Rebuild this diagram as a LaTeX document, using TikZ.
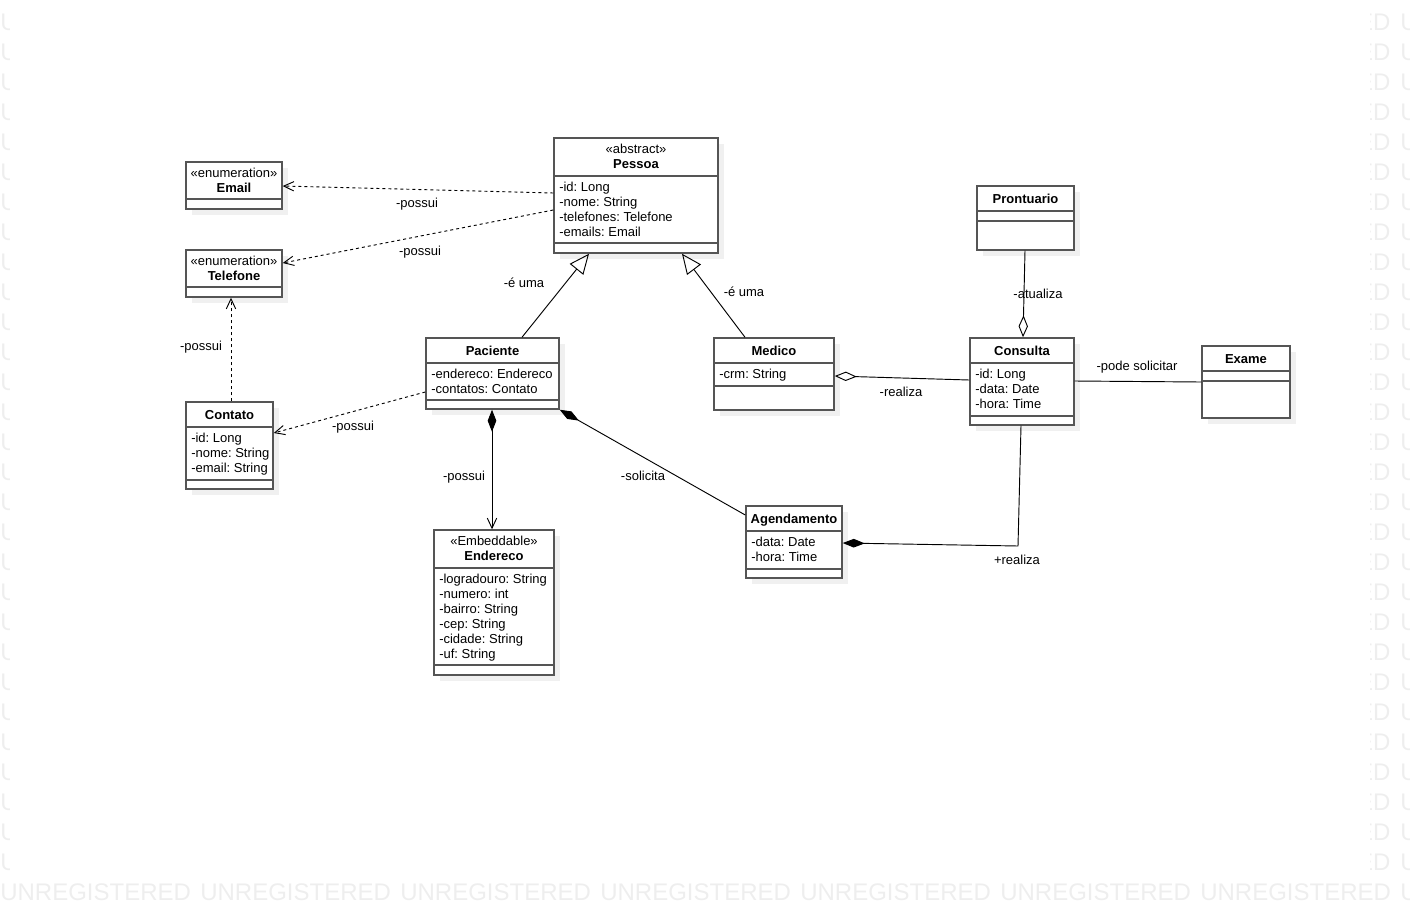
\documentclass[tikz,border=0pt]{standalone}
\usepackage{fontspec}
\setmainfont{Liberation Sans}
\usepackage{tikz}
\usetikzlibrary{arrows.meta,calc,fit,shadows}
\frenchspacing
\definecolor{LinhaCaixa}{RGB}{85,85,85}
\definecolor{Sombra}{RGB}{240,240,240}
\definecolor{MarcaDagua}{RGB}{238,238,238}

\begin{document}
\begin{tikzpicture}[x=0.75pt, y=-0.75pt, >=Latex,
    font=\fontsize{9.75}{11.25}\selectfont,
    classe/.style={draw=LinhaCaixa, line width=1.1pt, fill=white, inner sep=0pt,
        drop shadow={shadow xshift=4.5pt, shadow yshift=-4.5pt, fill=Sombra, opacity=1}},
    divisao/.style={draw=LinhaCaixa, line width=1.1pt},
    estereo/.style={anchor=base, inner sep=0pt},
    nome/.style={anchor=base, inner sep=0pt, font=\fontsize{9.75}{11.25}\selectfont\bfseries},
    atrib/.style={anchor=base west, inner sep=0pt},
    rotulo/.style={anchor=base, inner sep=0pt},
    liga/.style={line width=0.7pt},
    depende/.style={liga, dash pattern=on 2.25pt off 2.25pt, -{Straight Barb[length=7.5pt,width=7pt]}},
    heranca/.style={liga, -{Triangle[open,length=15pt,width=13pt]}},
    marca/.style={anchor=base west, inner sep=0pt, text=MarcaDagua, font=\fontsize{18}{18}\selectfont}]
    \useasboundingbox (0,0) rectangle (1410,918);

    % marca d'agua (so nas margens)
    \foreach \lin in {0,...,28} {
        \node[marca] (wm-e\lin) at (0,30+\lin*30) {U};
        \node[marca, anchor=base east] (wm-d\lin) at (1390.7,30+\lin*30) {ED};
        \node[marca] (wm-f\lin) at (1400,30+\lin*30) {UNREGISTERED};
    }
    \foreach \col in {0,...,7}
        \node[marca] (wm-b\col) at (\col*200,900) {UNREGISTERED};
    \fill[white] (10,0) rectangle (1370,876);

    % Pessoa
    \node[classe, fit={(554,138) (718,253)}] (pessoa) {};
    \draw[divisao] (554,176) -- (718,176) (554,243) -- (718,243);
    \node[estereo] (pessoa-est) at (636,153) {«abstract»};
    \node[nome] (pessoa-nome) at (636,168) {Pessoa};
    \foreach \t [count=\i] in {-id: Long, -nome: String, -telefones: Telefone, -emails: Email}
        \node[atrib] (pessoa-a\i) at (559,176+15*\i) {\t};

    % Email
    \node[classe, fit={(186,162) (282,209)}] (email) {};
    \draw[divisao] (186,199) -- (282,199);
    \node[estereo] (email-est) at (234,177) {«enumeration»};
    \node[nome] (email-nome) at (234,192) {Email};

    % Telefone
    \node[classe, fit={(186,250) (282,297)}] (telefone) {};
    \draw[divisao] (186,287) -- (282,287);
    \node[estereo] (telefone-est) at (234,265) {«enumeration»};
    \node[nome] (telefone-nome) at (234,280) {Telefone};

    % Contato
    \node[classe, fit={(186,402) (273,489)}] (contato) {};
    \draw[divisao] (186,427) -- (273,427) (186,480) -- (273,480);
    \node[nome] (contato-nome) at (229.5,419) {Contato};
    \foreach \t [count=\i] in {-id: Long, -nome: String, -email: String}
        \node[atrib] (contato-a\i) at (191,427+15*\i) {\t};

    % Paciente
    \node[classe, fit={(426,338) (559,409)}] (paciente) {};
    \draw[divisao] (426,363) -- (559,363) (426,400) -- (559,400);
    \node[nome] (paciente-nome) at (492.5,355) {Paciente};
    \foreach \t [count=\i] in {-endereco: Endereco, -contatos: Contato}
        \node[atrib] (paciente-a\i) at (431,363+15*\i) {\t};

    % Endereco
    \node[classe, fit={(434,530) (554,675)}] (endereco) {};
    \draw[divisao] (434,568) -- (554,568) (434,665) -- (554,665);
    \node[estereo] (endereco-est) at (494,545) {«Embeddable»};
    \node[nome] (endereco-nome) at (494,560) {Endereco};
    \foreach \t [count=\i] in {-logradouro: String, -numero: int, -bairro: String,
            -cep: String, -cidade: String, -uf: String}
        \node[atrib] (endereco-a\i) at (439,568+15*\i) {\t};

    % Medico
    \node[classe, fit={(714,338) (834,410)}] (medico) {};
    \draw[divisao] (714,363) -- (834,363) (714,386) -- (834,386);
    \node[nome] (medico-nome) at (774,355) {Medico};
    \node[atrib] (medico-a1) at (719,378) {-crm: String};

    % Consulta
    \node[classe, fit={(970,338) (1074,425)}] (consulta) {};
    \draw[divisao] (970,363) -- (1074,363) (970,416) -- (1074,416);
    \node[nome] (consulta-nome) at (1022,355) {Consulta};
    \foreach \t [count=\i] in {-id: Long, -data: Date, -hora: Time}
        \node[atrib] (consulta-a\i) at (975,363+15*\i) {\t};

    % Prontuario
    \node[classe, fit={(977,186) (1074,250)}] (prontuario) {};
    \draw[divisao] (977,211) -- (1074,211) (977,221) -- (1074,221);
    \node[nome] (prontuario-nome) at (1025.5,203) {Prontuario};

    % Exame
    \node[classe, fit={(1202,346) (1290,418)}] (exame) {};
    \draw[divisao] (1202,371) -- (1290,371) (1202,381) -- (1290,381);
    \node[nome] (exame-nome) at (1246,363) {Exame};

    % Agendamento
    \node[classe, fit={(746,506) (842,578)}] (agendamento) {};
    \draw[divisao] (746,531) -- (842,531) (746,569) -- (842,569);
    \node[nome] (agendamento-nome) at (794,523) {Agendamento};
    \foreach \t [count=\i] in {-data: Date, -hora: Time}
        \node[atrib] (agendamento-a\i) at (751,531+15*\i) {\t};

    % ligacoes
    \draw[depende] (pessoa.west |- 0,193) -- (email.east |- 0,186);
    \node[rotulo] (r-email) at (417,207) {-possui};
    \draw[depende] (pessoa.west |- 0,210) -- (telefone.east |- 0,263);
    \node[rotulo] (r-telefone) at (420,255) {-possui};
    \draw[depende] (contato.north -| 231,0) -- (telefone.south -| 231,0);
    \node[rotulo] (r-contato-tel) at (201,350) {-possui};
    \draw[depende] (paciente.west |- 0,392) -- (contato.east |- 0,433);
    \node[rotulo] (r-contato) at (353,430) {-possui};
    \draw[liga, {Diamond[length=16.5pt,width=6.5pt]}-{Straight Barb[length=7.5pt,width=7pt]}]
        (paciente.south -| 492,0) -- (endereco.north -| 492,0);
    \node[rotulo] (r-endereco) at (464,480) {-possui};
    \draw[liga, {Diamond[length=16.5pt,width=6.5pt]}-]
        (paciente.south east) -- (agendamento.west |- 0,515);
    \node[rotulo] (r-solicita) at (643,480) {-solicita};

    \draw[heranca] (paciente.north -| 522,0) -- (pessoa.south -| 589,0);
    \node[rotulo] (r-paciente) at (524,287) {-é uma};
    \draw[heranca] (medico.north -| 745,0) -- (pessoa.south -| 682,0);
    \node[rotulo] (r-medico) at (744,296) {-é uma};

    \draw[liga, -{Diamond[open,length=16.5pt,width=7pt]}]
        (consulta.west |- 0,380) -- (medico.east |- 0,376);
    \node[rotulo] (r-realiza) at (901,396) {-realiza};
    \draw[liga, -{Diamond[open,length=16.5pt,width=7pt]}]
        (prontuario.south -| 1025,0) -- (consulta.north -| 1023,0);
    \node[rotulo] (r-atualiza) at (1038,298) {-atualiza};
    \draw[liga] (consulta.east |- 0,381) -- (exame.west |- 0,382);
    \node[rotulo] (r-exame) at (1137,370) {-pode solicitar};

    \coordinate (dobra) at (1018,546);
    \draw[liga, -{Diamond[length=16.5pt,width=6.5pt]}]
        (consulta.south -| 1021,0) -- (dobra) -- (agendamento.east |- 0,543);
    \node[rotulo] (r-agenda) at (1017,564) {+realiza};
\end{tikzpicture}
\end{document}
